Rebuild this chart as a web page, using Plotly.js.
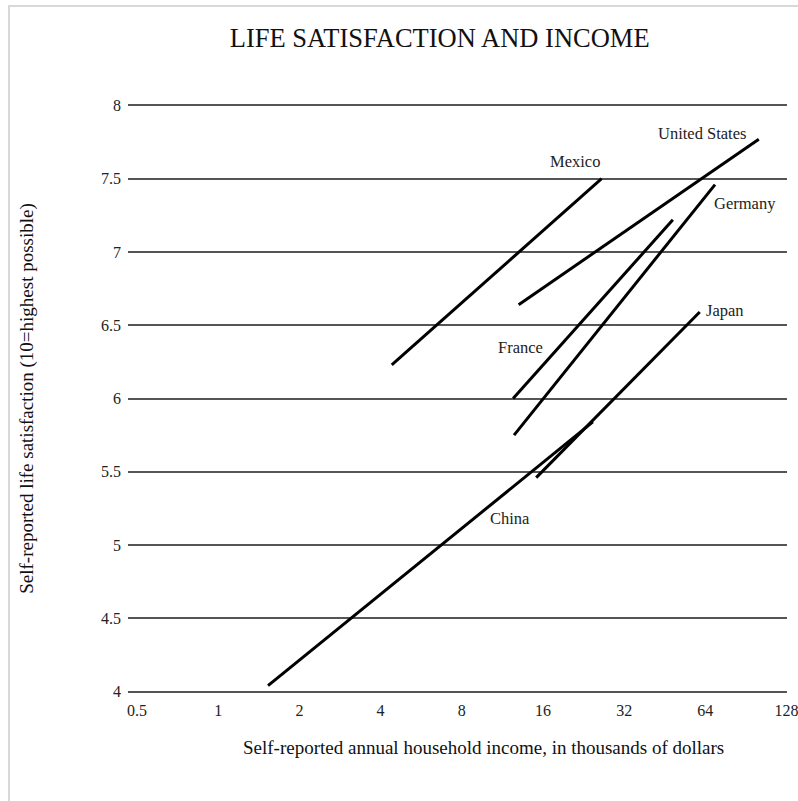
<!DOCTYPE html>
<html>
<head>
<meta charset="utf-8">
<script src="https://cdn.plot.ly/plotly-3.0.1.min.js"></script>
<style>
  html, body { margin: 0; padding: 0; background: #fff; }
  #wrap { position: relative; width: 798px; height: 801px; overflow: hidden; }
  #chart { position: absolute; left: 0; top: 0; width: 798px; height: 801px; }
  #frame { position: absolute; left: 8px; top: 5px; right: 0; bottom: 0;
           border-left: 2px solid #d8d8d8; border-top: 2px solid #d8d8d8; pointer-events: none; }
</style>
</head>
<body>
<div id="wrap"><div id="chart"></div><div id="frame"></div></div>
<script>
// Each country: [start, end] of its income/satisfaction line (income in thousands of dollars)
const countries = ["China", "Japan", "Mexico", "United States", "France", "Germany"];
const incomeStart = [1.53, 15.1, 4.4, 13.0, 12.4, 12.5];
const incomeEnd   = [24.5, 61.0, 26.4, 101, 48.5, 69.5];
const satStart    = [4.04, 5.46, 6.23, 6.64, 6.00, 5.75];
const satEnd      = [5.84, 6.59, 7.50, 7.77, 7.22, 7.46];

// Label anchor points (data coordinates)
const labelIncome = [12.1, 76, 21, 62, 13.2, 90];
const labelSat    = [5.18, 6.60, 7.62, 7.81, 6.35, 7.33];

const xTickVals = [0.5, 1, 2, 4, 8, 16, 32, 64, 128];
const xTickText = ["0.5", "1", "2", "4", "8", "16", "32", "64", "128"];
const yTickVals = [4, 4.5, 5, 5.5, 6, 6.5, 7, 7.5, 8];
const yTickText = ["4", "4.5", "5", "5.5", "6", "6.5", "7", "7.5", "8"];

const xTitle = "Self-reported annual household income, in thousands of dollars";
const yTitle = "Self-reported life satisfaction (10=highest possible)";

const FONT = "'Liberation Serif', 'DejaVu Serif', serif";

const traces = countries.map((c, i) => ({
  type: "scatter",
  mode: "lines",
  name: c,
  x: [incomeStart[i], incomeEnd[i]],
  y: [satStart[i], satEnd[i]],
  line: { color: "#000", width: 3 },
  hoverinfo: "name"
}));

const annotations = countries.map((c, i) => ({
  text: c,
  x: Math.log10(labelIncome[i]),
  y: labelSat[i],
  xref: "x", yref: "y",
  showarrow: false,
  font: { family: FONT, size: 16.5, color: "#222" }
}));

annotations.push({
  text: xTitle,
  xref: "paper", yref: "paper",
  x: 0.540, y: -0.092,
  xanchor: "center", yanchor: "middle",
  showarrow: false,
  font: { family: FONT, size: 19, color: "#111" }
});

const layout = {
  width: 798, height: 801,
  paper_bgcolor: "#fff", plot_bgcolor: "#fff",
  margin: { l: 128, r: 11, t: 104, b: 108 },
  showlegend: false,
  font: { family: FONT, color: "#222" },
  title: {
    text: "LIFE SATISFACTION AND INCOME",
    font: { family: FONT, size: 26.5, color: "#111" },
    x: 0.551, xref: "container", xanchor: "center",
    y: 0.953, yref: "container", yanchor: "middle"
  },
  xaxis: {
    type: "log",
    range: [Math.log10(0.463), Math.log10(128.5)],
    tickvals: xTickVals, ticktext: xTickText,
    showgrid: false, zeroline: false, showline: false,
    ticks: "", ticklabelstandoff: 6, ticklabeloverflow: "allow",
    tickfont: { family: FONT, size: 16, color: "#222" }
  },
  yaxis: {
    range: [3.99, 8.01],
    tickvals: yTickVals, ticktext: yTickText,
    showgrid: true, gridcolor: "#555", gridwidth: 2,
    zeroline: false, showline: false,
    ticks: "", ticklabelstandoff: 6,
    tickfont: { family: FONT, size: 16, color: "#222" },
    title: { text: yTitle,
             font: { family: FONT, size: 19, color: "#111" }, standoff: 62 }
  },
  annotations: annotations
};

Plotly.newPlot("chart", traces, layout, { displayModeBar: false, staticPlot: true });
</script>
</body>
</html>
